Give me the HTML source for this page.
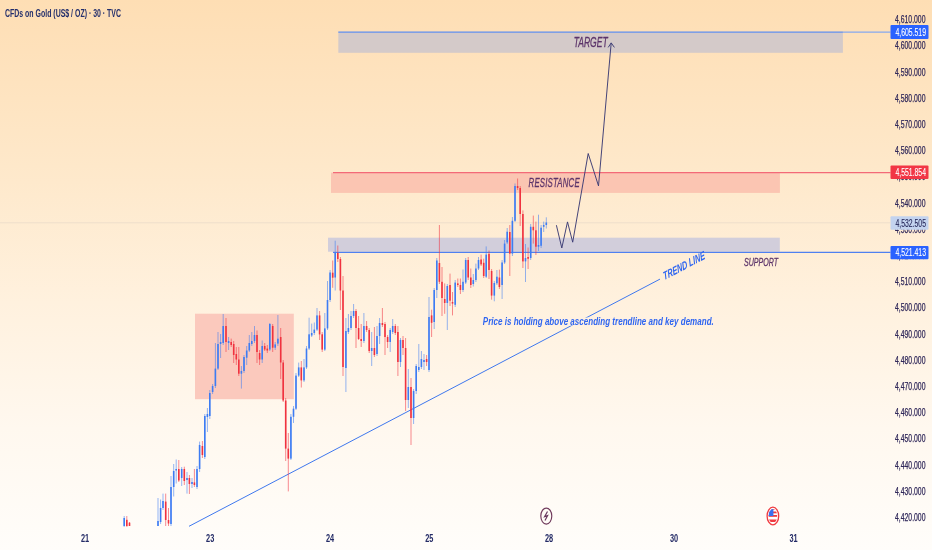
<!DOCTYPE html>
<html><head><meta charset="utf-8"><title>CFDs on Gold (US$ / OZ) · 30 · TVC</title>
<style>
html,body{margin:0;padding:0;width:932px;height:550px;overflow:hidden;}
body{background:linear-gradient(180deg,#fedeb4 0%,#fee9cc 33%,#fff1de 55%,#fff8ef 78%,#fffdfa 100%);}
svg{display:block;position:absolute;left:0;top:0;}
text{font-family:"Liberation Sans",Arial,sans-serif;}
.ax{font-size:10px;fill:#30285a;stroke:#30285a;stroke-width:0.25px;}
.dt{font-size:10.4px;font-weight:bold;fill:#242b66;}
.title{font-size:10.8px;font-weight:bold;fill:#242f6c;}
.lbl{font-style:italic;font-weight:normal;fill:#5c346a;stroke:#5c346a;stroke-width:0.3px;}
</style></head>
<body>
<svg width="932" height="550" viewBox="0 0 932 550">
<text x="5" y="17" class="title" textLength="116" lengthAdjust="spacingAndGlyphs">CFDs on Gold (US$ / OZ) · 30 · TVC</text>
<!-- faint current price line -->
<line x1="0" y1="222.8" x2="890" y2="222.8" stroke="#eedfcb" stroke-width="1"/>
<!-- target box -->
<rect x="338.3" y="32.6" width="504.6" height="20.2" fill="#d4cac9"/>
<line x1="338.3" y1="32.1" x2="842.9" y2="32.1" stroke="#5a8cf2" stroke-width="1.1"/>
<line x1="842.9" y1="32.1" x2="890.5" y2="32.1" stroke="#86a8ef" stroke-width="1.2"/>
<!-- resistance box -->
<rect x="331" y="172.6" width="448.9" height="20.3" fill="#fbc5b2"/>
<line x1="333" y1="172.6" x2="890.5" y2="172.6" stroke="#f36a78" stroke-width="1.2"/>
<!-- support box -->
<rect x="328" y="237.7" width="451.8" height="14" fill="#d2cedb"/>
<line x1="333" y1="252.4" x2="890.5" y2="252.4" stroke="#4f80f0" stroke-width="1.2"/>
<!-- demand box -->
<rect x="195" y="313.7" width="98.8" height="85.5" fill="#fbc9bd"/>
<!-- trend line -->
<line x1="189" y1="526.3" x2="660" y2="279.1" stroke="#3f78ee" stroke-width="1"/>
<g clip-path="url(#cp)">
<clipPath id="cp"><rect x="0" y="0" width="889" height="526.5"/></clipPath>
<line x1="124.20" y1="516.0" x2="124.20" y2="526.5" stroke="#3d7cf3" stroke-width="0.8" stroke-opacity="0.7"/>
<rect x="123.40" y="518.0" width="1.6" height="8.5" fill="#3d7cf3"/>
<line x1="126.80" y1="516.0" x2="126.80" y2="526.5" stroke="#f0303f" stroke-width="0.8" stroke-opacity="0.7"/>
<rect x="126.00" y="519.8" width="1.6" height="6.7" fill="#f0323f"/>
<line x1="129.50" y1="522.0" x2="129.50" y2="526.0" stroke="#f0303f" stroke-width="0.8" stroke-opacity="0.7"/>
<rect x="128.70" y="522.7" width="1.6" height="3.3" fill="#f0323f"/>
<line x1="158.00" y1="498.0" x2="158.00" y2="526.0" stroke="#3d7cf3" stroke-width="0.8" stroke-opacity="0.7"/>
<rect x="157.20" y="521.0" width="1.6" height="5.0" fill="#3d7cf3"/>
<line x1="160.60" y1="499.5" x2="160.60" y2="524.0" stroke="#3d7cf3" stroke-width="0.8" stroke-opacity="0.7"/>
<rect x="159.80" y="508.0" width="1.6" height="14.0" fill="#3d7cf3"/>
<line x1="163.00" y1="493.6" x2="163.00" y2="510.0" stroke="#3d7cf3" stroke-width="0.8" stroke-opacity="0.7"/>
<rect x="162.20" y="501.0" width="1.6" height="7.0" fill="#3d7cf3"/>
<line x1="165.70" y1="493.6" x2="165.70" y2="526.0" stroke="#f0303f" stroke-width="0.8" stroke-opacity="0.7"/>
<rect x="164.90" y="501.6" width="1.6" height="18.4" fill="#f0323f"/>
<line x1="168.50" y1="508.0" x2="168.50" y2="526.0" stroke="#f0303f" stroke-width="0.8" stroke-opacity="0.7"/>
<rect x="167.70" y="520.0" width="1.6" height="3.5" fill="#f0323f"/>
<line x1="171.00" y1="476.0" x2="171.00" y2="526.0" stroke="#3d7cf3" stroke-width="0.8" stroke-opacity="0.7"/>
<rect x="170.20" y="487.0" width="1.6" height="37.0" fill="#3d7cf3"/>
<line x1="173.70" y1="464.0" x2="173.70" y2="496.5" stroke="#3d7cf3" stroke-width="0.8" stroke-opacity="0.7"/>
<rect x="172.90" y="471.0" width="1.6" height="16.0" fill="#3d7cf3"/>
<line x1="176.20" y1="459.5" x2="176.20" y2="483.5" stroke="#3d7cf3" stroke-width="0.8" stroke-opacity="0.7"/>
<rect x="175.40" y="469.0" width="1.6" height="1.5" fill="#3d7cf3"/>
<line x1="178.80" y1="460.0" x2="178.80" y2="482.0" stroke="#f0303f" stroke-width="0.8" stroke-opacity="0.7"/>
<rect x="178.00" y="469.0" width="1.6" height="11.5" fill="#f0323f"/>
<line x1="181.70" y1="467.0" x2="181.70" y2="486.0" stroke="#3d7cf3" stroke-width="0.8" stroke-opacity="0.7"/>
<rect x="180.90" y="469.0" width="1.6" height="9.0" fill="#3d7cf3"/>
<line x1="184.30" y1="466.7" x2="184.30" y2="485.0" stroke="#f0303f" stroke-width="0.8" stroke-opacity="0.7"/>
<rect x="183.50" y="469.0" width="1.6" height="12.0" fill="#f0323f"/>
<line x1="187.00" y1="472.0" x2="187.00" y2="493.6" stroke="#3d7cf3" stroke-width="0.8" stroke-opacity="0.7"/>
<rect x="186.20" y="478.0" width="1.6" height="2.0" fill="#3d7cf3"/>
<line x1="189.40" y1="475.0" x2="189.40" y2="494.0" stroke="#f0303f" stroke-width="0.8" stroke-opacity="0.7"/>
<rect x="188.60" y="478.0" width="1.6" height="6.0" fill="#f0323f"/>
<line x1="192.00" y1="478.0" x2="192.00" y2="488.0" stroke="#3d7cf3" stroke-width="0.8" stroke-opacity="0.7"/>
<rect x="191.20" y="482.0" width="1.6" height="2.0" fill="#3d7cf3"/>
<line x1="194.40" y1="469.0" x2="194.40" y2="487.0" stroke="#f0303f" stroke-width="0.8" stroke-opacity="0.7"/>
<rect x="193.60" y="482.4" width="1.6" height="2.6" fill="#f0323f"/>
<line x1="197.00" y1="466.0" x2="197.00" y2="489.0" stroke="#3d7cf3" stroke-width="0.8" stroke-opacity="0.7"/>
<rect x="196.20" y="469.0" width="1.6" height="18.0" fill="#3d7cf3"/>
<line x1="199.60" y1="441.6" x2="199.60" y2="472.0" stroke="#3d7cf3" stroke-width="0.8" stroke-opacity="0.7"/>
<rect x="198.80" y="445.0" width="1.6" height="24.0" fill="#3d7cf3"/>
<line x1="202.40" y1="441.0" x2="202.40" y2="458.0" stroke="#f0303f" stroke-width="0.8" stroke-opacity="0.7"/>
<rect x="201.60" y="446.0" width="1.6" height="9.0" fill="#f0323f"/>
<line x1="204.80" y1="414.0" x2="204.80" y2="459.0" stroke="#3d7cf3" stroke-width="0.8" stroke-opacity="0.7"/>
<rect x="204.00" y="416.0" width="1.6" height="41.0" fill="#3d7cf3"/>
<line x1="207.40" y1="408.0" x2="207.40" y2="432.0" stroke="#3d7cf3" stroke-width="0.8" stroke-opacity="0.7"/>
<rect x="206.60" y="414.0" width="1.6" height="3.0" fill="#3d7cf3"/>
<line x1="209.80" y1="390.0" x2="209.80" y2="419.0" stroke="#3d7cf3" stroke-width="0.8" stroke-opacity="0.7"/>
<rect x="209.00" y="393.0" width="1.6" height="23.0" fill="#3d7cf3"/>
<line x1="212.60" y1="384.0" x2="212.60" y2="394.0" stroke="#3d7cf3" stroke-width="0.8" stroke-opacity="0.7"/>
<rect x="211.80" y="386.0" width="1.6" height="6.0" fill="#3d7cf3"/>
<line x1="215.40" y1="343.0" x2="215.40" y2="388.0" stroke="#3d7cf3" stroke-width="0.8" stroke-opacity="0.7"/>
<rect x="214.60" y="368.6" width="1.6" height="17.4" fill="#3d7cf3"/>
<line x1="218.00" y1="332.0" x2="218.00" y2="370.0" stroke="#3d7cf3" stroke-width="0.8" stroke-opacity="0.7"/>
<rect x="217.20" y="344.0" width="1.6" height="24.6" fill="#3d7cf3"/>
<line x1="220.60" y1="334.0" x2="220.60" y2="358.0" stroke="#3d7cf3" stroke-width="0.8" stroke-opacity="0.7"/>
<rect x="219.80" y="342.0" width="1.6" height="2.0" fill="#3d7cf3"/>
<line x1="223.20" y1="314.0" x2="223.20" y2="345.0" stroke="#3d7cf3" stroke-width="0.8" stroke-opacity="0.7"/>
<rect x="222.40" y="326.0" width="1.6" height="17.0" fill="#3d7cf3"/>
<line x1="226.00" y1="318.0" x2="226.00" y2="352.0" stroke="#f0303f" stroke-width="0.8" stroke-opacity="0.7"/>
<rect x="225.20" y="326.0" width="1.6" height="16.0" fill="#f0323f"/>
<line x1="228.60" y1="337.0" x2="228.60" y2="350.0" stroke="#3d7cf3" stroke-width="0.8" stroke-opacity="0.7"/>
<rect x="227.80" y="341.0" width="1.6" height="2.0" fill="#3d7cf3"/>
<line x1="231.20" y1="338.6" x2="231.20" y2="347.0" stroke="#f0303f" stroke-width="0.8" stroke-opacity="0.7"/>
<rect x="230.40" y="342.0" width="1.6" height="3.0" fill="#f0323f"/>
<line x1="233.70" y1="341.0" x2="233.70" y2="363.0" stroke="#f0303f" stroke-width="0.8" stroke-opacity="0.7"/>
<rect x="232.90" y="344.0" width="1.6" height="11.0" fill="#f0323f"/>
<line x1="236.30" y1="347.0" x2="236.30" y2="365.0" stroke="#f0303f" stroke-width="0.8" stroke-opacity="0.7"/>
<rect x="235.50" y="354.0" width="1.6" height="5.5" fill="#f0323f"/>
<line x1="238.80" y1="347.0" x2="238.80" y2="376.0" stroke="#f0303f" stroke-width="0.8" stroke-opacity="0.7"/>
<rect x="238.00" y="359.5" width="1.6" height="14.2" fill="#f0323f"/>
<line x1="241.40" y1="366.0" x2="241.40" y2="388.6" stroke="#3d7cf3" stroke-width="0.8" stroke-opacity="0.7"/>
<rect x="240.60" y="371.0" width="1.6" height="2.7" fill="#3d7cf3"/>
<line x1="244.00" y1="355.0" x2="244.00" y2="373.0" stroke="#3d7cf3" stroke-width="0.8" stroke-opacity="0.7"/>
<rect x="243.20" y="357.0" width="1.6" height="14.0" fill="#3d7cf3"/>
<line x1="246.70" y1="346.0" x2="246.70" y2="365.0" stroke="#3d7cf3" stroke-width="0.8" stroke-opacity="0.7"/>
<rect x="245.90" y="350.5" width="1.6" height="7.2" fill="#3d7cf3"/>
<line x1="249.30" y1="335.0" x2="249.30" y2="352.0" stroke="#3d7cf3" stroke-width="0.8" stroke-opacity="0.7"/>
<rect x="248.50" y="343.0" width="1.6" height="7.5" fill="#3d7cf3"/>
<line x1="251.80" y1="332.0" x2="251.80" y2="346.0" stroke="#3d7cf3" stroke-width="0.8" stroke-opacity="0.7"/>
<rect x="251.00" y="341.0" width="1.6" height="3.0" fill="#3d7cf3"/>
<line x1="254.50" y1="326.0" x2="254.50" y2="343.0" stroke="#3d7cf3" stroke-width="0.8" stroke-opacity="0.7"/>
<rect x="253.70" y="335.0" width="1.6" height="6.0" fill="#3d7cf3"/>
<line x1="257.00" y1="330.5" x2="257.00" y2="363.0" stroke="#f0303f" stroke-width="0.8" stroke-opacity="0.7"/>
<rect x="256.20" y="335.0" width="1.6" height="17.0" fill="#f0323f"/>
<line x1="259.60" y1="350.0" x2="259.60" y2="365.0" stroke="#f0303f" stroke-width="0.8" stroke-opacity="0.7"/>
<rect x="258.80" y="353.0" width="1.6" height="6.5" fill="#f0323f"/>
<line x1="262.20" y1="340.5" x2="262.20" y2="363.0" stroke="#3d7cf3" stroke-width="0.8" stroke-opacity="0.7"/>
<rect x="261.40" y="346.0" width="1.6" height="13.5" fill="#3d7cf3"/>
<line x1="264.70" y1="343.0" x2="264.70" y2="351.0" stroke="#f0303f" stroke-width="0.8" stroke-opacity="0.7"/>
<rect x="263.90" y="346.0" width="1.6" height="3.5" fill="#f0323f"/>
<line x1="267.30" y1="345.0" x2="267.30" y2="353.0" stroke="#f0303f" stroke-width="0.8" stroke-opacity="0.7"/>
<rect x="266.50" y="348.6" width="1.6" height="1.9" fill="#f0323f"/>
<line x1="269.80" y1="323.0" x2="269.80" y2="351.0" stroke="#3d7cf3" stroke-width="0.8" stroke-opacity="0.7"/>
<rect x="269.00" y="324.0" width="1.6" height="25.5" fill="#3d7cf3"/>
<line x1="272.70" y1="324.0" x2="272.70" y2="352.0" stroke="#f0303f" stroke-width="0.8" stroke-opacity="0.7"/>
<rect x="271.90" y="326.0" width="1.6" height="21.7" fill="#f0323f"/>
<line x1="275.20" y1="342.0" x2="275.20" y2="350.0" stroke="#3d7cf3" stroke-width="0.8" stroke-opacity="0.7"/>
<rect x="274.40" y="344.4" width="1.6" height="3.3" fill="#3d7cf3"/>
<line x1="277.90" y1="315.0" x2="277.90" y2="346.0" stroke="#3d7cf3" stroke-width="0.8" stroke-opacity="0.7"/>
<rect x="277.10" y="338.7" width="1.6" height="4.9" fill="#3d7cf3"/>
<line x1="280.70" y1="328.0" x2="280.70" y2="379.0" stroke="#f0303f" stroke-width="0.8" stroke-opacity="0.7"/>
<rect x="279.90" y="337.0" width="1.6" height="25.5" fill="#f0323f"/>
<line x1="283.20" y1="360.0" x2="283.20" y2="402.0" stroke="#f0303f" stroke-width="0.8" stroke-opacity="0.7"/>
<rect x="282.40" y="362.5" width="1.6" height="38.0" fill="#f0323f"/>
<line x1="285.70" y1="398.0" x2="285.70" y2="461.0" stroke="#f0303f" stroke-width="0.8" stroke-opacity="0.7"/>
<rect x="284.90" y="400.5" width="1.6" height="48.1" fill="#f0323f"/>
<line x1="288.30" y1="433.0" x2="288.30" y2="491.4" stroke="#f0303f" stroke-width="0.8" stroke-opacity="0.7"/>
<rect x="287.50" y="448.6" width="1.6" height="10.0" fill="#f0323f"/>
<line x1="290.90" y1="414.0" x2="290.90" y2="460.0" stroke="#3d7cf3" stroke-width="0.8" stroke-opacity="0.7"/>
<rect x="290.10" y="416.8" width="1.6" height="41.8" fill="#3d7cf3"/>
<line x1="293.50" y1="406.0" x2="293.50" y2="423.0" stroke="#3d7cf3" stroke-width="0.8" stroke-opacity="0.7"/>
<rect x="292.70" y="408.7" width="1.6" height="8.1" fill="#3d7cf3"/>
<line x1="296.00" y1="373.0" x2="296.00" y2="410.0" stroke="#3d7cf3" stroke-width="0.8" stroke-opacity="0.7"/>
<rect x="295.20" y="375.6" width="1.6" height="33.1" fill="#3d7cf3"/>
<line x1="298.70" y1="362.6" x2="298.70" y2="377.0" stroke="#3d7cf3" stroke-width="0.8" stroke-opacity="0.7"/>
<rect x="297.90" y="367.4" width="1.6" height="8.2" fill="#3d7cf3"/>
<line x1="301.30" y1="361.0" x2="301.30" y2="387.5" stroke="#f0303f" stroke-width="0.8" stroke-opacity="0.7"/>
<rect x="300.50" y="367.4" width="1.6" height="13.0" fill="#f0323f"/>
<line x1="304.00" y1="359.0" x2="304.00" y2="382.0" stroke="#3d7cf3" stroke-width="0.8" stroke-opacity="0.7"/>
<rect x="303.20" y="367.4" width="1.6" height="13.0" fill="#3d7cf3"/>
<line x1="306.50" y1="346.0" x2="306.50" y2="369.0" stroke="#3d7cf3" stroke-width="0.8" stroke-opacity="0.7"/>
<rect x="305.70" y="348.5" width="1.6" height="18.9" fill="#3d7cf3"/>
<line x1="309.10" y1="317.7" x2="309.10" y2="350.0" stroke="#3d7cf3" stroke-width="0.8" stroke-opacity="0.7"/>
<rect x="308.30" y="334.3" width="1.6" height="14.2" fill="#3d7cf3"/>
<line x1="311.70" y1="323.6" x2="311.70" y2="337.0" stroke="#3d7cf3" stroke-width="0.8" stroke-opacity="0.7"/>
<rect x="310.90" y="333.0" width="1.6" height="2.5" fill="#3d7cf3"/>
<line x1="314.30" y1="322.5" x2="314.30" y2="335.0" stroke="#3d7cf3" stroke-width="0.8" stroke-opacity="0.7"/>
<rect x="313.50" y="329.6" width="1.6" height="3.4" fill="#3d7cf3"/>
<line x1="317.00" y1="308.0" x2="317.00" y2="331.0" stroke="#3d7cf3" stroke-width="0.8" stroke-opacity="0.7"/>
<rect x="316.20" y="315.4" width="1.6" height="14.2" fill="#3d7cf3"/>
<line x1="319.60" y1="311.0" x2="319.60" y2="340.0" stroke="#f0303f" stroke-width="0.8" stroke-opacity="0.7"/>
<rect x="318.80" y="315.4" width="1.6" height="19.0" fill="#f0323f"/>
<line x1="322.20" y1="332.0" x2="322.20" y2="352.0" stroke="#f0303f" stroke-width="0.8" stroke-opacity="0.7"/>
<rect x="321.40" y="334.3" width="1.6" height="15.3" fill="#f0323f"/>
<line x1="324.80" y1="313.0" x2="324.80" y2="351.0" stroke="#3d7cf3" stroke-width="0.8" stroke-opacity="0.7"/>
<rect x="324.00" y="328.4" width="1.6" height="21.2" fill="#3d7cf3"/>
<line x1="327.50" y1="281.0" x2="327.50" y2="330.0" stroke="#3d7cf3" stroke-width="0.8" stroke-opacity="0.7"/>
<rect x="326.70" y="300.0" width="1.6" height="28.4" fill="#3d7cf3"/>
<line x1="330.10" y1="270.0" x2="330.10" y2="302.0" stroke="#3d7cf3" stroke-width="0.8" stroke-opacity="0.7"/>
<rect x="329.30" y="272.5" width="1.6" height="27.5" fill="#3d7cf3"/>
<line x1="332.70" y1="260.5" x2="332.70" y2="287.8" stroke="#f0303f" stroke-width="0.8" stroke-opacity="0.7"/>
<rect x="331.90" y="272.7" width="1.6" height="5.0" fill="#f0323f"/>
<line x1="335.20" y1="240.7" x2="335.20" y2="290.5" stroke="#3d7cf3" stroke-width="0.8" stroke-opacity="0.7"/>
<rect x="334.40" y="253.0" width="1.6" height="24.5" fill="#3d7cf3"/>
<line x1="337.80" y1="245.5" x2="337.80" y2="262.0" stroke="#f0303f" stroke-width="0.8" stroke-opacity="0.7"/>
<rect x="337.00" y="253.0" width="1.6" height="6.0" fill="#f0323f"/>
<line x1="340.40" y1="257.0" x2="340.40" y2="310.0" stroke="#f0303f" stroke-width="0.8" stroke-opacity="0.7"/>
<rect x="339.60" y="259.0" width="1.6" height="31.5" fill="#f0323f"/>
<line x1="343.00" y1="276.0" x2="343.00" y2="376.0" stroke="#f0303f" stroke-width="0.8" stroke-opacity="0.7"/>
<rect x="342.20" y="290.5" width="1.6" height="76.5" fill="#f0323f"/>
<line x1="345.90" y1="318.0" x2="345.90" y2="392.0" stroke="#3d7cf3" stroke-width="0.8" stroke-opacity="0.7"/>
<rect x="345.10" y="331.0" width="1.6" height="37.0" fill="#3d7cf3"/>
<line x1="348.40" y1="314.0" x2="348.40" y2="334.0" stroke="#3d7cf3" stroke-width="0.8" stroke-opacity="0.7"/>
<rect x="347.60" y="328.0" width="1.6" height="4.0" fill="#3d7cf3"/>
<line x1="351.00" y1="311.0" x2="351.00" y2="330.0" stroke="#3d7cf3" stroke-width="0.8" stroke-opacity="0.7"/>
<rect x="350.20" y="316.0" width="1.6" height="12.0" fill="#3d7cf3"/>
<line x1="353.60" y1="304.0" x2="353.60" y2="318.0" stroke="#3d7cf3" stroke-width="0.8" stroke-opacity="0.7"/>
<rect x="352.80" y="311.0" width="1.6" height="5.0" fill="#3d7cf3"/>
<line x1="356.00" y1="309.0" x2="356.00" y2="348.0" stroke="#f0303f" stroke-width="0.8" stroke-opacity="0.7"/>
<rect x="355.20" y="311.0" width="1.6" height="17.0" fill="#f0323f"/>
<line x1="358.60" y1="316.0" x2="358.60" y2="340.0" stroke="#f0303f" stroke-width="0.8" stroke-opacity="0.7"/>
<rect x="357.80" y="328.0" width="1.6" height="11.0" fill="#f0323f"/>
<line x1="361.20" y1="324.0" x2="361.20" y2="347.0" stroke="#f0303f" stroke-width="0.8" stroke-opacity="0.7"/>
<rect x="360.40" y="339.0" width="1.6" height="2.0" fill="#f0323f"/>
<line x1="363.90" y1="313.0" x2="363.90" y2="343.0" stroke="#3d7cf3" stroke-width="0.8" stroke-opacity="0.7"/>
<rect x="363.10" y="326.0" width="1.6" height="15.0" fill="#3d7cf3"/>
<line x1="366.60" y1="321.0" x2="366.60" y2="332.0" stroke="#f0303f" stroke-width="0.8" stroke-opacity="0.7"/>
<rect x="365.80" y="326.0" width="1.6" height="4.0" fill="#f0323f"/>
<line x1="369.20" y1="328.0" x2="369.20" y2="353.0" stroke="#f0303f" stroke-width="0.8" stroke-opacity="0.7"/>
<rect x="368.40" y="330.0" width="1.6" height="21.0" fill="#f0323f"/>
<line x1="371.70" y1="332.0" x2="371.70" y2="366.0" stroke="#3d7cf3" stroke-width="0.8" stroke-opacity="0.7"/>
<rect x="370.90" y="348.0" width="1.6" height="3.0" fill="#3d7cf3"/>
<line x1="374.40" y1="327.0" x2="374.40" y2="357.0" stroke="#f0303f" stroke-width="0.8" stroke-opacity="0.7"/>
<rect x="373.60" y="348.0" width="1.6" height="7.0" fill="#f0323f"/>
<line x1="377.00" y1="326.0" x2="377.00" y2="356.0" stroke="#3d7cf3" stroke-width="0.8" stroke-opacity="0.7"/>
<rect x="376.20" y="336.0" width="1.6" height="18.0" fill="#3d7cf3"/>
<line x1="379.60" y1="318.0" x2="379.60" y2="344.0" stroke="#3d7cf3" stroke-width="0.8" stroke-opacity="0.7"/>
<rect x="378.80" y="323.0" width="1.6" height="13.0" fill="#3d7cf3"/>
<line x1="382.40" y1="308.0" x2="382.40" y2="327.0" stroke="#f0303f" stroke-width="0.8" stroke-opacity="0.7"/>
<rect x="381.60" y="323.0" width="1.6" height="2.0" fill="#f0323f"/>
<line x1="385.00" y1="322.0" x2="385.00" y2="355.0" stroke="#f0303f" stroke-width="0.8" stroke-opacity="0.7"/>
<rect x="384.20" y="324.0" width="1.6" height="13.0" fill="#f0323f"/>
<line x1="387.60" y1="335.0" x2="387.60" y2="348.0" stroke="#f0303f" stroke-width="0.8" stroke-opacity="0.7"/>
<rect x="386.80" y="337.0" width="1.6" height="5.0" fill="#f0323f"/>
<line x1="390.20" y1="328.0" x2="390.20" y2="352.0" stroke="#3d7cf3" stroke-width="0.8" stroke-opacity="0.7"/>
<rect x="389.40" y="330.0" width="1.6" height="12.0" fill="#3d7cf3"/>
<line x1="392.70" y1="319.0" x2="392.70" y2="334.0" stroke="#3d7cf3" stroke-width="0.8" stroke-opacity="0.7"/>
<rect x="391.90" y="326.0" width="1.6" height="6.0" fill="#3d7cf3"/>
<line x1="395.30" y1="324.0" x2="395.30" y2="335.0" stroke="#f0303f" stroke-width="0.8" stroke-opacity="0.7"/>
<rect x="394.50" y="326.0" width="1.6" height="7.0" fill="#f0323f"/>
<line x1="397.90" y1="326.0" x2="397.90" y2="376.0" stroke="#f0303f" stroke-width="0.8" stroke-opacity="0.7"/>
<rect x="397.10" y="332.0" width="1.6" height="30.0" fill="#f0323f"/>
<line x1="400.50" y1="338.0" x2="400.50" y2="367.0" stroke="#3d7cf3" stroke-width="0.8" stroke-opacity="0.7"/>
<rect x="399.70" y="340.0" width="1.6" height="22.0" fill="#3d7cf3"/>
<line x1="403.00" y1="336.0" x2="403.00" y2="355.0" stroke="#f0303f" stroke-width="0.8" stroke-opacity="0.7"/>
<rect x="402.20" y="340.0" width="1.6" height="8.0" fill="#f0323f"/>
<line x1="405.60" y1="338.0" x2="405.60" y2="411.0" stroke="#f0303f" stroke-width="0.8" stroke-opacity="0.7"/>
<rect x="404.80" y="348.0" width="1.6" height="52.0" fill="#f0323f"/>
<line x1="408.30" y1="369.0" x2="408.30" y2="408.0" stroke="#3d7cf3" stroke-width="0.8" stroke-opacity="0.7"/>
<rect x="407.50" y="387.0" width="1.6" height="13.0" fill="#3d7cf3"/>
<line x1="411.00" y1="378.0" x2="411.00" y2="445.0" stroke="#f0303f" stroke-width="0.8" stroke-opacity="0.7"/>
<rect x="410.20" y="387.0" width="1.6" height="31.0" fill="#f0323f"/>
<line x1="413.60" y1="389.0" x2="413.60" y2="424.0" stroke="#3d7cf3" stroke-width="0.8" stroke-opacity="0.7"/>
<rect x="412.80" y="391.0" width="1.6" height="27.0" fill="#3d7cf3"/>
<line x1="416.20" y1="364.0" x2="416.20" y2="394.0" stroke="#3d7cf3" stroke-width="0.8" stroke-opacity="0.7"/>
<rect x="415.40" y="366.0" width="1.6" height="25.0" fill="#3d7cf3"/>
<line x1="418.80" y1="344.0" x2="418.80" y2="372.0" stroke="#3d7cf3" stroke-width="0.8" stroke-opacity="0.7"/>
<rect x="418.00" y="367.0" width="1.6" height="3.0" fill="#3d7cf3"/>
<line x1="421.40" y1="351.0" x2="421.40" y2="369.0" stroke="#3d7cf3" stroke-width="0.8" stroke-opacity="0.7"/>
<rect x="420.60" y="359.0" width="1.6" height="8.0" fill="#3d7cf3"/>
<line x1="424.00" y1="354.0" x2="424.00" y2="370.0" stroke="#3d7cf3" stroke-width="0.8" stroke-opacity="0.7"/>
<rect x="423.20" y="360.0" width="1.6" height="2.0" fill="#3d7cf3"/>
<line x1="426.60" y1="355.0" x2="426.60" y2="366.0" stroke="#f0303f" stroke-width="0.8" stroke-opacity="0.7"/>
<rect x="425.80" y="359.0" width="1.6" height="3.0" fill="#f0323f"/>
<line x1="429.00" y1="297.0" x2="429.00" y2="372.0" stroke="#3d7cf3" stroke-width="0.8" stroke-opacity="0.7"/>
<rect x="428.20" y="317.0" width="1.6" height="53.0" fill="#3d7cf3"/>
<line x1="431.60" y1="309.7" x2="431.60" y2="337.0" stroke="#f0303f" stroke-width="0.8" stroke-opacity="0.7"/>
<rect x="430.80" y="315.4" width="1.6" height="7.4" fill="#f0323f"/>
<line x1="434.20" y1="288.0" x2="434.20" y2="329.0" stroke="#3d7cf3" stroke-width="0.8" stroke-opacity="0.7"/>
<rect x="433.40" y="290.0" width="1.6" height="32.0" fill="#3d7cf3"/>
<line x1="436.80" y1="258.0" x2="436.80" y2="298.0" stroke="#3d7cf3" stroke-width="0.8" stroke-opacity="0.7"/>
<rect x="436.00" y="260.5" width="1.6" height="29.5" fill="#3d7cf3"/>
<line x1="439.40" y1="225.0" x2="439.40" y2="284.0" stroke="#f0303f" stroke-width="0.8" stroke-opacity="0.7"/>
<rect x="438.60" y="263.0" width="1.6" height="18.8" fill="#f0323f"/>
<line x1="442.00" y1="267.0" x2="442.00" y2="316.0" stroke="#f0303f" stroke-width="0.8" stroke-opacity="0.7"/>
<rect x="441.20" y="281.8" width="1.6" height="16.2" fill="#f0323f"/>
<line x1="444.70" y1="283.4" x2="444.70" y2="313.8" stroke="#f0303f" stroke-width="0.8" stroke-opacity="0.7"/>
<rect x="443.90" y="299.0" width="1.6" height="4.0" fill="#f0323f"/>
<line x1="447.30" y1="284.0" x2="447.30" y2="330.0" stroke="#3d7cf3" stroke-width="0.8" stroke-opacity="0.7"/>
<rect x="446.50" y="286.0" width="1.6" height="17.0" fill="#3d7cf3"/>
<line x1="450.00" y1="273.6" x2="450.00" y2="306.0" stroke="#f0303f" stroke-width="0.8" stroke-opacity="0.7"/>
<rect x="449.20" y="285.0" width="1.6" height="15.7" fill="#f0323f"/>
<line x1="452.50" y1="292.0" x2="452.50" y2="315.4" stroke="#f0303f" stroke-width="0.8" stroke-opacity="0.7"/>
<rect x="451.70" y="302.0" width="1.6" height="1.6" fill="#f0323f"/>
<line x1="455.20" y1="280.0" x2="455.20" y2="307.0" stroke="#3d7cf3" stroke-width="0.8" stroke-opacity="0.7"/>
<rect x="454.40" y="282.6" width="1.6" height="22.2" fill="#3d7cf3"/>
<line x1="457.80" y1="278.5" x2="457.80" y2="287.0" stroke="#f0303f" stroke-width="0.8" stroke-opacity="0.7"/>
<rect x="457.00" y="283.4" width="1.6" height="1.6" fill="#f0323f"/>
<line x1="460.40" y1="278.5" x2="460.40" y2="294.0" stroke="#f0303f" stroke-width="0.8" stroke-opacity="0.7"/>
<rect x="459.60" y="285.0" width="1.6" height="5.0" fill="#f0323f"/>
<line x1="463.00" y1="269.5" x2="463.00" y2="292.0" stroke="#3d7cf3" stroke-width="0.8" stroke-opacity="0.7"/>
<rect x="462.20" y="281.8" width="1.6" height="8.2" fill="#3d7cf3"/>
<line x1="465.70" y1="258.0" x2="465.70" y2="284.0" stroke="#3d7cf3" stroke-width="0.8" stroke-opacity="0.7"/>
<rect x="464.90" y="260.0" width="1.6" height="22.5" fill="#3d7cf3"/>
<line x1="468.20" y1="257.0" x2="468.20" y2="280.0" stroke="#f0303f" stroke-width="0.8" stroke-opacity="0.7"/>
<rect x="467.40" y="260.0" width="1.6" height="17.5" fill="#f0323f"/>
<line x1="470.80" y1="268.5" x2="470.80" y2="288.0" stroke="#f0303f" stroke-width="0.8" stroke-opacity="0.7"/>
<rect x="470.00" y="277.5" width="1.6" height="7.5" fill="#f0323f"/>
<line x1="473.30" y1="274.0" x2="473.30" y2="286.5" stroke="#3d7cf3" stroke-width="0.8" stroke-opacity="0.7"/>
<rect x="472.50" y="280.0" width="1.6" height="4.0" fill="#3d7cf3"/>
<line x1="475.90" y1="263.6" x2="475.90" y2="282.0" stroke="#3d7cf3" stroke-width="0.8" stroke-opacity="0.7"/>
<rect x="475.10" y="268.5" width="1.6" height="11.5" fill="#3d7cf3"/>
<line x1="478.50" y1="257.0" x2="478.50" y2="270.0" stroke="#3d7cf3" stroke-width="0.8" stroke-opacity="0.7"/>
<rect x="477.70" y="260.0" width="1.6" height="8.5" fill="#3d7cf3"/>
<line x1="481.10" y1="254.6" x2="481.10" y2="266.0" stroke="#f0303f" stroke-width="0.8" stroke-opacity="0.7"/>
<rect x="480.30" y="259.5" width="1.6" height="4.9" fill="#f0323f"/>
<line x1="483.70" y1="258.7" x2="483.70" y2="278.0" stroke="#f0303f" stroke-width="0.8" stroke-opacity="0.7"/>
<rect x="482.90" y="262.8" width="1.6" height="13.2" fill="#f0323f"/>
<line x1="486.20" y1="246.4" x2="486.20" y2="278.0" stroke="#3d7cf3" stroke-width="0.8" stroke-opacity="0.7"/>
<rect x="485.40" y="254.6" width="1.6" height="22.1" fill="#3d7cf3"/>
<line x1="489.00" y1="250.5" x2="489.00" y2="279.0" stroke="#f0303f" stroke-width="0.8" stroke-opacity="0.7"/>
<rect x="488.20" y="253.8" width="1.6" height="16.2" fill="#f0323f"/>
<line x1="491.60" y1="269.0" x2="491.60" y2="299.7" stroke="#f0303f" stroke-width="0.8" stroke-opacity="0.7"/>
<rect x="490.80" y="271.0" width="1.6" height="24.6" fill="#f0323f"/>
<line x1="494.30" y1="281.0" x2="494.30" y2="301.3" stroke="#3d7cf3" stroke-width="0.8" stroke-opacity="0.7"/>
<rect x="493.50" y="283.0" width="1.6" height="12.6" fill="#3d7cf3"/>
<line x1="496.90" y1="270.0" x2="496.90" y2="285.0" stroke="#3d7cf3" stroke-width="0.8" stroke-opacity="0.7"/>
<rect x="496.10" y="276.7" width="1.6" height="6.6" fill="#3d7cf3"/>
<line x1="499.40" y1="269.6" x2="499.40" y2="289.0" stroke="#f0303f" stroke-width="0.8" stroke-opacity="0.7"/>
<rect x="498.60" y="277.5" width="1.6" height="9.5" fill="#f0323f"/>
<line x1="502.10" y1="260.0" x2="502.10" y2="299.0" stroke="#3d7cf3" stroke-width="0.8" stroke-opacity="0.7"/>
<rect x="501.30" y="262.5" width="1.6" height="22.5" fill="#3d7cf3"/>
<line x1="504.60" y1="240.0" x2="504.60" y2="264.0" stroke="#3d7cf3" stroke-width="0.8" stroke-opacity="0.7"/>
<rect x="503.80" y="243.6" width="1.6" height="18.9" fill="#3d7cf3"/>
<line x1="507.20" y1="228.0" x2="507.20" y2="244.0" stroke="#3d7cf3" stroke-width="0.8" stroke-opacity="0.7"/>
<rect x="506.40" y="231.7" width="1.6" height="10.7" fill="#3d7cf3"/>
<line x1="509.80" y1="225.0" x2="509.80" y2="276.0" stroke="#f0303f" stroke-width="0.8" stroke-opacity="0.7"/>
<rect x="509.00" y="232.0" width="1.6" height="21.6" fill="#f0323f"/>
<line x1="512.40" y1="217.0" x2="512.40" y2="256.0" stroke="#3d7cf3" stroke-width="0.8" stroke-opacity="0.7"/>
<rect x="511.60" y="220.8" width="1.6" height="32.8" fill="#3d7cf3"/>
<line x1="515.00" y1="183.5" x2="515.00" y2="222.0" stroke="#3d7cf3" stroke-width="0.8" stroke-opacity="0.7"/>
<rect x="514.20" y="186.0" width="1.6" height="34.8" fill="#3d7cf3"/>
<line x1="517.60" y1="178.5" x2="517.60" y2="190.0" stroke="#f0303f" stroke-width="0.8" stroke-opacity="0.7"/>
<rect x="516.80" y="186.0" width="1.6" height="2.0" fill="#f0323f"/>
<line x1="520.20" y1="186.0" x2="520.20" y2="226.0" stroke="#f0303f" stroke-width="0.8" stroke-opacity="0.7"/>
<rect x="519.40" y="188.0" width="1.6" height="26.0" fill="#f0323f"/>
<line x1="522.90" y1="210.4" x2="522.90" y2="268.0" stroke="#f0303f" stroke-width="0.8" stroke-opacity="0.7"/>
<rect x="522.10" y="214.0" width="1.6" height="47.4" fill="#f0323f"/>
<line x1="525.50" y1="244.0" x2="525.50" y2="282.0" stroke="#3d7cf3" stroke-width="0.8" stroke-opacity="0.7"/>
<rect x="524.70" y="258.0" width="1.6" height="3.4" fill="#3d7cf3"/>
<line x1="528.10" y1="247.5" x2="528.10" y2="269.0" stroke="#f0303f" stroke-width="0.8" stroke-opacity="0.7"/>
<rect x="527.30" y="257.0" width="1.6" height="1.8" fill="#f0323f"/>
<line x1="530.70" y1="224.0" x2="530.70" y2="260.0" stroke="#3d7cf3" stroke-width="0.8" stroke-opacity="0.7"/>
<rect x="529.90" y="226.8" width="1.6" height="31.2" fill="#3d7cf3"/>
<line x1="533.30" y1="215.6" x2="533.30" y2="243.6" stroke="#f0303f" stroke-width="0.8" stroke-opacity="0.7"/>
<rect x="532.50" y="226.8" width="1.6" height="3.5" fill="#f0323f"/>
<line x1="535.90" y1="221.6" x2="535.90" y2="255.0" stroke="#f0303f" stroke-width="0.8" stroke-opacity="0.7"/>
<rect x="535.10" y="230.3" width="1.6" height="16.4" fill="#f0323f"/>
<line x1="538.50" y1="214.7" x2="538.50" y2="251.0" stroke="#3d7cf3" stroke-width="0.8" stroke-opacity="0.7"/>
<rect x="537.70" y="245.0" width="1.6" height="1.7" fill="#3d7cf3"/>
<line x1="541.10" y1="225.0" x2="541.10" y2="248.0" stroke="#3d7cf3" stroke-width="0.8" stroke-opacity="0.7"/>
<rect x="540.30" y="227.7" width="1.6" height="18.1" fill="#3d7cf3"/>
<line x1="543.70" y1="221.6" x2="543.70" y2="232.0" stroke="#3d7cf3" stroke-width="0.8" stroke-opacity="0.7"/>
<rect x="542.90" y="225.0" width="1.6" height="1.8" fill="#3d7cf3"/>
<line x1="546.30" y1="217.3" x2="546.30" y2="228.5" stroke="#3d7cf3" stroke-width="0.8" stroke-opacity="0.7"/>
<rect x="545.50" y="222.5" width="1.6" height="2.5" fill="#3d7cf3"/>
</g>
<!-- labels -->
<text transform="translate(573.7,46.8) scale(0.62,1)" class="lbl" font-size="13.8px" textLength="54.8" lengthAdjust="spacing">TARGET</text>
<text transform="translate(528.6,187.2) scale(0.62,1)" class="lbl" font-size="12.6px" textLength="82.3" lengthAdjust="spacing">RESISTANCE</text>
<text transform="translate(744,265.6) scale(0.62,1)" class="lbl" font-size="11.4px" textLength="54.8" lengthAdjust="spacing">SUPPORT</text>
<text transform="translate(664.2,280.2) scale(0.68,1) rotate(-19.6)" x="0" y="0" font-size="11.8px" font-style="italic" font-weight="bold" fill="#2f66f0" textLength="64.5" lengthAdjust="spacingAndGlyphs">TREND LINE</text>
<rect x="480.3" y="317.6" width="238.7" height="7.8" fill="#fff1e2"/>
<text x="482.8" y="325" font-size="11px" font-style="italic" font-weight="bold" fill="#2f66f0" textLength="231" lengthAdjust="spacingAndGlyphs">Price is holding above ascending trendline and key demand.</text>
<!-- projection path -->
<polyline points="556.4,225.2 561.8,248 567.5,221.9 572.7,242.2 588.2,153.5 598.5,185.9 611.2,42.9" fill="none" stroke="#3b3b74" stroke-width="0.95" stroke-linejoin="miter"/>
<polyline points="608.2,47.4 611.2,42.9 614.4,47.4" fill="none" stroke="#3b3b74" stroke-width="0.95"/>
<!-- axis -->
<text x="925.5" y="520.9" class="ax" text-anchor="end" textLength="30.5" lengthAdjust="spacingAndGlyphs">4,420.000</text>
<text x="925.5" y="494.7" class="ax" text-anchor="end" textLength="30.5" lengthAdjust="spacingAndGlyphs">4,430.000</text>
<text x="925.5" y="468.5" class="ax" text-anchor="end" textLength="30.5" lengthAdjust="spacingAndGlyphs">4,440.000</text>
<text x="925.5" y="442.3" class="ax" text-anchor="end" textLength="30.5" lengthAdjust="spacingAndGlyphs">4,450.000</text>
<text x="925.5" y="416.1" class="ax" text-anchor="end" textLength="30.5" lengthAdjust="spacingAndGlyphs">4,460.000</text>
<text x="925.5" y="389.9" class="ax" text-anchor="end" textLength="30.5" lengthAdjust="spacingAndGlyphs">4,470.000</text>
<text x="925.5" y="363.7" class="ax" text-anchor="end" textLength="30.5" lengthAdjust="spacingAndGlyphs">4,480.000</text>
<text x="925.5" y="337.5" class="ax" text-anchor="end" textLength="30.5" lengthAdjust="spacingAndGlyphs">4,490.000</text>
<text x="925.5" y="311.3" class="ax" text-anchor="end" textLength="30.5" lengthAdjust="spacingAndGlyphs">4,500.000</text>
<text x="925.5" y="285.1" class="ax" text-anchor="end" textLength="30.5" lengthAdjust="spacingAndGlyphs">4,510.000</text>
<text x="925.5" y="258.9" class="ax" text-anchor="end" textLength="30.5" lengthAdjust="spacingAndGlyphs">4,520.000</text>
<text x="925.5" y="232.7" class="ax" text-anchor="end" textLength="30.5" lengthAdjust="spacingAndGlyphs">4,530.000</text>
<text x="925.5" y="206.5" class="ax" text-anchor="end" textLength="30.5" lengthAdjust="spacingAndGlyphs">4,540.000</text>
<text x="925.5" y="180.3" class="ax" text-anchor="end" textLength="30.5" lengthAdjust="spacingAndGlyphs">4,550.000</text>
<text x="925.5" y="154.1" class="ax" text-anchor="end" textLength="30.5" lengthAdjust="spacingAndGlyphs">4,560.000</text>
<text x="925.5" y="127.9" class="ax" text-anchor="end" textLength="30.5" lengthAdjust="spacingAndGlyphs">4,570.000</text>
<text x="925.5" y="101.7" class="ax" text-anchor="end" textLength="30.5" lengthAdjust="spacingAndGlyphs">4,580.000</text>
<text x="925.5" y="75.5" class="ax" text-anchor="end" textLength="30.5" lengthAdjust="spacingAndGlyphs">4,590.000</text>
<text x="925.5" y="49.3" class="ax" text-anchor="end" textLength="30.5" lengthAdjust="spacingAndGlyphs">4,600.000</text>
<text x="925.5" y="23.1" class="ax" text-anchor="end" textLength="30.5" lengthAdjust="spacingAndGlyphs">4,610.000</text>
<rect x="890.5" y="25" width="38" height="14" rx="1" fill="#2962ff"/><text x="926" y="35.7" class="ax" style="font-size:10.5px;fill:#ffffff;stroke:#ffffff;stroke-width:0.1px" text-anchor="end" textLength="30.5" lengthAdjust="spacingAndGlyphs">4,605.519</text>
<rect x="890.5" y="165.6" width="38" height="13.400000000000006" rx="1" fill="#f23645"/><text x="926" y="176.0" class="ax" style="font-size:10.5px;fill:#ffffff;stroke:#ffffff;stroke-width:0.1px" text-anchor="end" textLength="30.5" lengthAdjust="spacingAndGlyphs">4,551.854</text>
<rect x="890.5" y="216.3" width="38" height="13.399999999999977" rx="1" fill="#c3d3ef"/><text x="926" y="226.7" class="ax" style="font-size:10.5px;fill:#26285a;stroke:#26285a;stroke-width:0.1px" text-anchor="end" textLength="30.5" lengthAdjust="spacingAndGlyphs">4,532.505</text>
<rect x="890.5" y="245.9" width="38" height="13.299999999999983" rx="1" fill="#2962ff"/><text x="926" y="256.2" class="ax" style="font-size:10.5px;fill:#ffffff;stroke:#ffffff;stroke-width:0.1px" text-anchor="end" textLength="30.5" lengthAdjust="spacingAndGlyphs">4,521.413</text>
<text x="81.0" y="541.8" class="dt" textLength="8.2" lengthAdjust="spacingAndGlyphs">21</text>
<text x="206.1" y="541.8" class="dt" textLength="8.2" lengthAdjust="spacingAndGlyphs">23</text>
<text x="326.0" y="541.8" class="dt" textLength="8.2" lengthAdjust="spacingAndGlyphs">24</text>
<text x="425.2" y="541.8" class="dt" textLength="8.2" lengthAdjust="spacingAndGlyphs">25</text>
<text x="544.9" y="541.8" class="dt" textLength="8.2" lengthAdjust="spacingAndGlyphs">28</text>
<text x="669.9" y="541.8" class="dt" textLength="8.2" lengthAdjust="spacingAndGlyphs">30</text>
<text x="789.4" y="541.8" class="dt" textLength="8.2" lengthAdjust="spacingAndGlyphs">31</text>
<!-- icons -->
<ellipse cx="546.3" cy="516.1" rx="5.5" ry="8.0" fill="none" stroke="#703a5c" stroke-width="1.15"/>
<path d="M547.5,511.5 L544.6,516.6 L547.6,515.6 L545,520.5" fill="none" stroke="#6a3a60" stroke-width="1.2"/>
<ellipse cx="772.9" cy="516" rx="5.8" ry="8.8" fill="none" stroke="#f03a40" stroke-width="1.3"/>
<clipPath id="fl"><ellipse cx="772.9" cy="516" rx="4.3" ry="7"/></clipPath>
<g clip-path="url(#fl)">
<rect x="768" y="508" width="10" height="16" fill="#ffffff"/>
<rect x="768" y="508" width="10" height="1.8" fill="#f03a40"/>
<rect x="768" y="511.5" width="10" height="1.8" fill="#f03a40"/>
<rect x="768" y="515" width="10" height="1.8" fill="#f03a40"/>
<rect x="768" y="519.5" width="10" height="2.5" fill="#f03a40"/>
<rect x="768" y="508" width="5.4" height="8" fill="#3c6ff0"/>
</g>
</svg>
</body></html>
